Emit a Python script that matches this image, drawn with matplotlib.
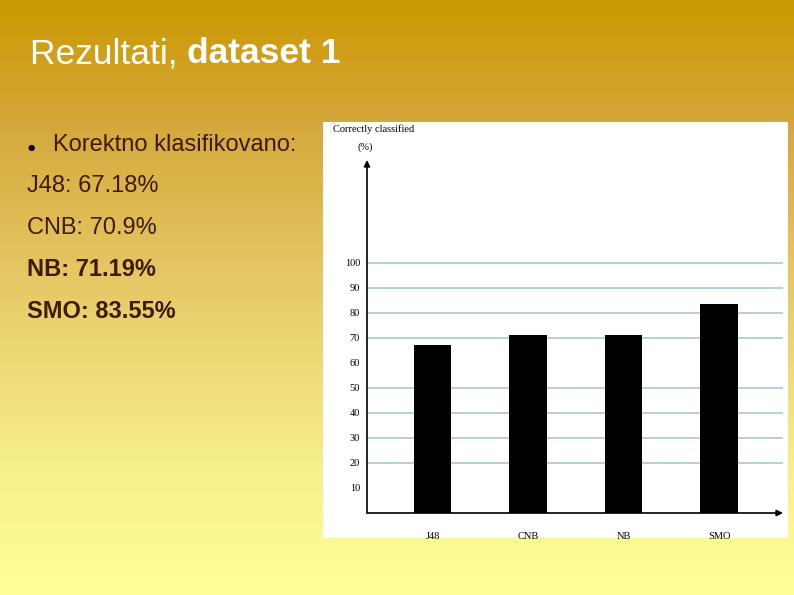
import numpy as np
import matplotlib
matplotlib.use("Agg")
import matplotlib.pyplot as plt
from matplotlib.colors import LinearSegmentedColormap
from matplotlib.patches import Rectangle
from matplotlib import font_manager as fm
import os

# ---- data ----
categories = ["J48", "CNB", "NB", "SMO"]
accuracy = [67.18, 70.9, 71.19, 83.55]
y_ticks = [10, 20, 30, 40, 50, 60, 70, 80, 90, 100]
grid_levels = [20, 30, 40, 50, 70, 80, 90, 100]
title_plain = "Rezultati, "
title_bold = "dataset 1"
bullet_text = "Korektno klasifikovano:"
result_lines = ["J48: 67.18%", "CNB: 70.9%", "NB: 71.19%", "SMO: 83.55%"]
result_bold = [False, False, True, True]
y_label_1 = "Correctly classified"
y_label_2 = "(%)"


def find_font(fname, family, weight):
    for p in fm.findSystemFonts():
        if os.path.basename(p) == fname:
            return fm.FontProperties(fname=p)
    return fm.FontProperties(family=family, weight=weight)


reg = find_font("LiberationSans-Regular.ttf", "Liberation Sans", "normal")
bold = find_font("LiberationSans-Bold.ttf", "Liberation Sans", "bold")

W, H = 794, 595
fig = plt.figure(figsize=(W / 100, H / 100), dpi=100)

# ---- background gradient ----
bg = fig.add_axes([0, 0, 1, 1])
bg.set_axis_off()
cmap = LinearSegmentedColormap.from_list(
    "slide",
    [(0.0, "#CC9900"), (0.2, "#D4A73A"), (0.5, "#E8CC6A"),
     (0.8, "#F8F08E"), (1.0, "#FFFF99")])
grad = np.linspace(0, 1, 256).reshape(-1, 1)
bg.imshow(grad, aspect="auto", cmap=cmap, extent=[0, 1, 0, 1], origin="upper")
bg.set_xlim(0, 1)
bg.set_ylim(0, 1)


def fx(px):
    return px / W


def fy(py):
    return 1 - py / H


# white chart panel
fig.patches.append(Rectangle((fx(323), fy(538)), fx(788) - fx(323), fy(122) - fy(538),
                             transform=fig.transFigure, facecolor="white",
                             edgecolor="none", zorder=1))

# ---- slide text ----
brown = "#3F1A00"
t = fig.text(fx(30), fy(63), title_plain, color="white", fontproperties=reg,
             fontsize=25.5, va="baseline", ha="left")
fig.canvas.draw()
bb = t.get_window_extent()
fig.text(bb.x1 / W, fy(63), title_bold, color="white", fontproperties=bold,
         fontsize=25.5, va="baseline", ha="left")

fig.text(fx(28), fy(150), "\u25CF", color="black", fontsize=6, family="DejaVu Sans",
         va="baseline", ha="left")
fig.text(fx(53), fy(151), bullet_text, color=brown, fontproperties=reg,
         fontsize=17, va="baseline", ha="left")
baselines = [192, 234, 276, 318]
for line, b, yb in zip(result_lines, result_bold, baselines):
    fig.text(fx(27), fy(yb), line, color=brown, fontproperties=bold if b else reg,
             fontsize=17, va="baseline", ha="left")

# ---- chart ----
ax_left, ax_right = 367, 783
ax_bottom, ax_top = 513, 160
ax = fig.add_axes([fx(ax_left), fy(ax_bottom), fx(ax_right) - fx(ax_left),
                   fy(ax_top) - fy(ax_bottom)], zorder=3)
ax.patch.set_alpha(0)
x = np.arange(len(categories))
ax.set_xlim(-0.686, 3.67)
ax.set_ylim(0, 141)
for g in grid_levels:
    ax.axhline(g, color="#A9C8D6", lw=1.2, zorder=1)
ax.bar(x, accuracy, width=0.39, color="black", zorder=2)

for s in ax.spines.values():
    s.set_visible(False)
ax.annotate("", xy=(1.0, 0), xytext=(0, 0), xycoords="axes fraction",
            arrowprops=dict(arrowstyle="-|>", color="black", lw=1.2,
                            mutation_scale=9, shrinkA=0, shrinkB=0))
ax.annotate("", xy=(0, 1.0), xytext=(0, 0), xycoords="axes fraction",
            arrowprops=dict(arrowstyle="-|>", color="black", lw=1.2,
                            mutation_scale=9, shrinkA=0, shrinkB=0))

ax.set_xticks(x)
ax.set_xticklabels(categories, family="Liberation Serif", fontsize=7.5)
ax.set_yticks(y_ticks)
ax.set_yticklabels([str(v) for v in y_ticks], family="Liberation Serif", fontsize=7.5)
ax.tick_params(axis="x", length=0, pad=14)
ax.tick_params(axis="y", length=0, pad=5)

fig.text(fx(333), fy(129), y_label_1, family="Liberation Serif", fontsize=7.5,
         va="center", ha="left", zorder=4)
fig.text(fx(358), fy(147), y_label_2, family="Liberation Serif", fontsize=7.5,
         va="center", ha="left", zorder=4)

fig.savefig("out.png", dpi=100)
